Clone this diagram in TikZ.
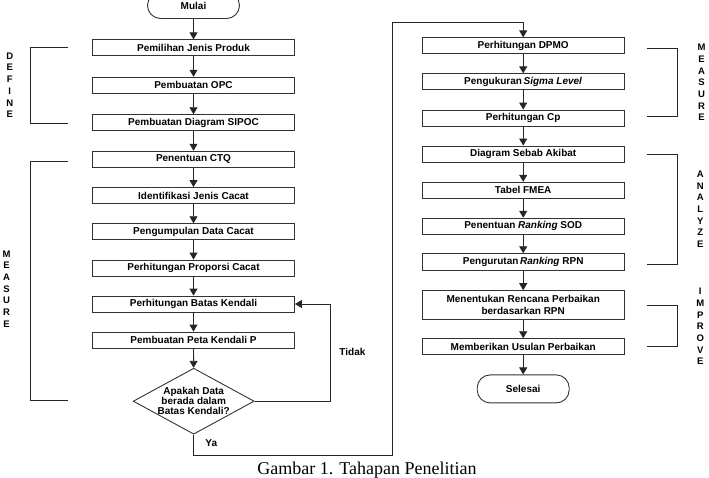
\documentclass[tikz,border=0pt]{standalone}
\usepackage{fontspec}
\setmainfont{Liberation Serif}
\setsansfont{Liberation Sans}
\usetikzlibrary{arrows.meta,shapes.geometric}

\begin{document}
\begin{tikzpicture}[x=1pt,y=-1pt,
  box/.style={rectangle,draw=black!80,line width=0.9pt,minimum width=202pt,minimum height=16pt,inner sep=0pt,align=center,font=\sffamily\bfseries\fontsize{10}{11.7}\selectfont},
  term/.style={box,rounded corners=13pt,minimum width=92pt,minimum height=26pt},
  decision/.style={diamond,draw=black!80,line width=0.9pt,aspect=1.83,minimum width=121pt,minimum height=66pt,inner xsep=-8pt,inner ysep=0pt,align=center,font=\sffamily\bfseries\fontsize{10}{9.9}\selectfont},
  flow/.style={draw=black!85,line width=0.9pt,-{Triangle[width=8pt,length=7pt]}},
  line/.style={draw=black!85,line width=0.9pt},
  tag/.style={align=center,inner sep=0pt,font=\sffamily\bfseries\fontsize{9.5}{11.7}\selectfont},
  answer/.style={inner sep=0pt,font=\sffamily\bfseries\fontsize{10}{12}\selectfont}]
\useasboundingbox (0,0) rectangle (709,477);

\node[term] (mulai) at (193.5,5.5) {Mulai};
\node[box] (l1) at (193.5,47.8) {Pemilihan Jenis Produk};
\node[box] (l2) at (193.5,85.2) {Pembuatan OPC};
\node[box] (l3) at (193.5,122.7) {Pembuatan Diagram SIPOC};
\node[box] (l4) at (193.5,159.2) {Penentuan CTQ};
\node[box] (l5) at (193.5,195.5) {Identifikasi Jenis Cacat};
\node[box] (l6) at (193.5,231.7) {Pengumpulan Data Cacat};
\node[box] (l7) at (193.5,268) {Perhitungan Proporsi Cacat};
\node[box] (l8) at (193.5,304) {Perhitungan Batas Kendali};
\node[box] (l9) at (193.5,340) {Pembuatan Peta Kendali P};
\node[decision] (dec) at (193.7,401.2) {Apakah Data\\berada dalam\\Batas Kendali?};

\node[box] (r1) at (523.2,45.8) {Perhitungan DPMO};
\node[box] (r2) at (523.2,81.8) {Pengukuran\,\textit{Sigma Level}};
\node[box] (r3) at (523.2,118) {Perhitungan Cp};
\node[box] (r4) at (523.2,154) {Diagram Sebab Akibat};
\node[box] (r5) at (523.2,190.3) {Tabel FMEA};
\node[box] (r6) at (523.2,226.2) {Penentuan \textit{Ranking} SOD};
\node[box,minimum height=17pt] (r7) at (523.2,262.2) {Pengurutan\,\textit{Ranking} RPN};
\node[box,minimum height=28.5pt] (r8) at (523.2,304.9) {Menentukan Rencana Perbaikan\\berdasarkan RPN};
\node[box] (r9) at (523.2,346.7) {Memberikan Usulan Perbaikan};
\node[term,minimum height=28pt] (selesai) at (523.2,388.9) {Selesai};

\coordinate (fb) at (330.7,352);
\coordinate (ya1) at (392.3,455);
\coordinate (ya2) at (392.3,22.3);
\node[answer] (tidak) at (352.4,352.3) {Tidak};
\node[answer] (ya) at (211.3,442.7) {Ya};

\draw[flow] (mulai) -- (l1);
\draw[flow] (l1) -- (l2);
\draw[flow] (l2) -- (l3);
\draw[flow] (l3) -- (l4);
\draw[flow] (l4) -- (l5);
\draw[flow] (l5) -- (l6);
\draw[flow] (l6) -- (l7);
\draw[flow] (l7) -- (l8);
\draw[flow] (l8) -- (l9);
\draw[flow] (l9) -- (dec);
\draw[flow] (dec.east) -| (fb) |- (l8.east);
\draw[flow] (dec.south) |- (ya1) -- (ya2) -| (r1.north);

\draw[flow] (r1) -- (r2);
\draw[flow] (r2) -- (r3);
\draw[flow] (r3) -- (r4);
\draw[flow] (r4) -- (r5);
\draw[flow] (r5) -- (r6);
\draw[flow] (r6) -- (r7);
\draw[flow] (r7) -- (r8);
\draw[flow] (r8) -- (r9);
\draw[flow] (r9) -- (selesai);

\draw[line] (68.3,47.3) -- (30.3,47.3) -- (30.3,123) -- (68.3,123);
\draw[line] (68.3,161) -- (30.3,161) -- (30.3,400.7) -- (68.3,400.7);
\draw[line] (646.7,48) -- (677.3,48) -- (677.3,116.7) -- (646.7,116.7);
\draw[line] (646.7,154.3) -- (677.3,154.3) -- (677.3,264) -- (646.7,264);
\draw[line] (646.7,305) -- (677.3,305) -- (677.3,346.3) -- (646.7,346.3);

\node[tag] (define) at (9.7,85.2) {D\\E\\F\\I\\N\\E};
\node[tag] (measurel) at (6.5,289) {M\\E\\A\\S\\U\\R\\E};
\node[tag] (measurer) at (701.5,82.5) {M\\E\\A\\S\\U\\R\\E};
\node[tag] (analyze) at (700.3,209.2) {A\\N\\A\\L\\Y\\Z\\E};
\node[tag] (improve) at (700.3,326.5) {I\\M\\P\\R\\O\\V\\E};

\node[anchor=base,inner sep=0pt,font=\fontsize{18}{20}\selectfont] (caption) at (367,474.5) {Gambar 1. Tahapan Penelitian};

\end{tikzpicture}
\end{document}
